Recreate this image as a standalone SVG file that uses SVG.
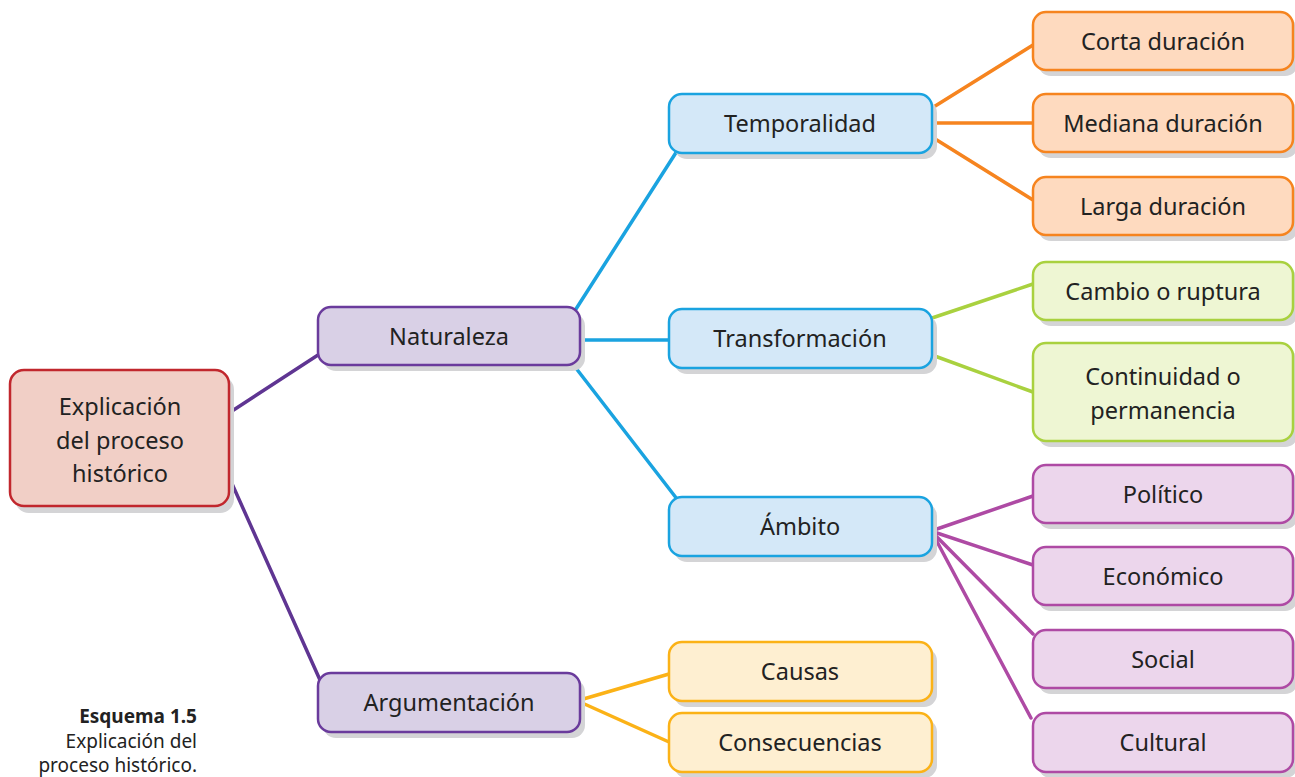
<svg xmlns="http://www.w3.org/2000/svg" width="1295" height="777" viewBox="0 0 1295 777">
<style>
.sh{fill:#d4d4d6}
.t{font-family:"Noto Sans","Open Sans",sans-serif;font-size:23.5px;fill:#222222;text-anchor:middle}
.cap{font-family:"Noto Sans","Open Sans",sans-serif;font-size:19px;fill:#222222;text-anchor:end}
.root{fill:#f1cfc6;stroke:#c1272d;stroke-width:2.5}
.pur{fill:#d9d0e6;stroke:#6a3b9c;stroke-width:2.5}
.blu{fill:#d4e8f8;stroke:#1aa3e0;stroke-width:2.5}
.org{fill:#fedabf;stroke:#f6841f;stroke-width:2.5}
.grn{fill:#eef6d3;stroke:#a9d13f;stroke-width:2.5}
.pnk{fill:#ecd6ec;stroke:#ae4aa4;stroke-width:2.5}
.yel{fill:#feefd1;stroke:#fbb217;stroke-width:2.5}
.c{fill:none;stroke-width:3.5;stroke-linecap:round}
</style>
<rect width="1295" height="777" fill="#ffffff"/>
<g id="connectors">
<g class="c" stroke="#5f3592">
<line x1="229" y1="413" x2="318" y2="355"/>
<line x1="229" y1="477" x2="320" y2="680"/>
</g>
<g class="c" stroke="#1aa3e0">
<line x1="576" y1="309" x2="677" y2="151"/>
<line x1="580" y1="340" x2="669" y2="340"/>
<line x1="572" y1="363" x2="677" y2="499"/>
</g>
<g class="c" stroke="#f6841f">
<line x1="932" y1="108" x2="1033" y2="45"/>
<line x1="932" y1="123" x2="1033" y2="123"/>
<line x1="932" y1="137" x2="1033" y2="200"/>
</g>
<g class="c" stroke="#a9d13f">
<line x1="932" y1="318" x2="1033" y2="284"/>
<line x1="932" y1="355" x2="1033" y2="392"/>
</g>
<g class="c" stroke="#ae4aa4">
<line x1="934" y1="530" x2="1033" y2="496"/>
<line x1="934" y1="532" x2="1033" y2="565"/>
<line x1="934" y1="534" x2="1033" y2="634"/>
<line x1="934" y1="536" x2="1031" y2="718"/>
</g>
<g class="c" stroke="#fbb217">
<line x1="580" y1="700" x2="669" y2="674"/>
<line x1="580" y1="702" x2="669" y2="742"/>
</g>
</g>
<g id="n-root"><rect class="sh" x="15" y="376" width="219" height="137" rx="14"/><rect class="root" x="10" y="370" width="219" height="136" rx="14"/>
<text class="t" x="120" y="415">Explicación</text><text class="t" x="120" y="449">del proceso</text><text class="t" x="120" y="482">histórico</text></g>
<g id="n-naturaleza"><rect class="sh" x="323" y="313" width="262" height="58" rx="13"/><rect class="pur" x="318" y="307" width="262" height="58" rx="13"/><text class="t" x="449" y="345">Naturaleza</text></g>
<g id="n-argumentacion"><rect class="sh" x="323" y="679" width="262" height="59" rx="13"/><rect class="pur" x="318" y="673" width="262" height="59" rx="13"/><text class="t" x="449" y="711">Argumentación</text></g>
<g id="n-temporalidad"><rect class="sh" x="674" y="100" width="263" height="59" rx="13"/><rect class="blu" x="669" y="94" width="263" height="59" rx="13"/><text class="t" x="800" y="132">Temporalidad</text></g>
<g id="n-transformacion"><rect class="sh" x="674" y="315" width="263" height="59" rx="13"/><rect class="blu" x="669" y="309" width="263" height="59" rx="13"/><text class="t" x="800" y="347">Transformación</text></g>
<g id="n-ambito"><rect class="sh" x="674" y="503" width="263" height="59" rx="13"/><rect class="blu" x="669" y="497" width="263" height="59" rx="13"/><text class="t" x="800" y="535">Ámbito</text></g>
<g id="n-corta"><rect class="sh" x="1038" y="18" width="260" height="58" rx="13"/><rect class="org" x="1033" y="12" width="260" height="58" rx="13"/><text class="t" x="1163" y="50">Corta duración</text></g>
<g id="n-mediana"><rect class="sh" x="1038" y="100" width="260" height="58" rx="13"/><rect class="org" x="1033" y="94" width="260" height="58" rx="13"/><text class="t" x="1163" y="132">Mediana duración</text></g>
<g id="n-larga"><rect class="sh" x="1038" y="183" width="260" height="58" rx="13"/><rect class="org" x="1033" y="177" width="260" height="58" rx="13"/><text class="t" x="1163" y="215">Larga duración</text></g>
<g id="n-cambio"><rect class="sh" x="1038" y="268" width="260" height="58" rx="13"/><rect class="grn" x="1033" y="262" width="260" height="58" rx="13"/><text class="t" x="1163" y="300">Cambio o ruptura</text></g>
<g id="n-continuidad"><rect class="sh" x="1038" y="349" width="260" height="98" rx="13"/><rect class="grn" x="1033" y="343" width="260" height="98" rx="13"/><text class="t" x="1163" y="385">Continuidad o</text><text class="t" x="1163" y="419">permanencia</text></g>
<g id="n-politico"><rect class="sh" x="1038" y="471" width="260" height="58" rx="13"/><rect class="pnk" x="1033" y="465" width="260" height="58" rx="13"/><text class="t" x="1163" y="503">Político</text></g>
<g id="n-economico"><rect class="sh" x="1038" y="553" width="260" height="58" rx="13"/><rect class="pnk" x="1033" y="547" width="260" height="58" rx="13"/><text class="t" x="1163" y="585">Económico</text></g>
<g id="n-social"><rect class="sh" x="1038" y="636" width="260" height="58" rx="13"/><rect class="pnk" x="1033" y="630" width="260" height="58" rx="13"/><text class="t" x="1163" y="668">Social</text></g>
<g id="n-cultural"><rect class="sh" x="1038" y="719" width="260" height="59" rx="13"/><rect class="pnk" x="1033" y="713" width="260" height="59" rx="13"/><text class="t" x="1163" y="751">Cultural</text></g>
<g id="n-causas"><rect class="sh" x="674" y="648" width="263" height="59" rx="13"/><rect class="yel" x="669" y="642" width="263" height="59" rx="13"/><text class="t" x="800" y="680">Causas</text></g>
<g id="n-consecuencias"><rect class="sh" x="674" y="719" width="263" height="59" rx="13"/><rect class="yel" x="669" y="713" width="263" height="59" rx="13"/><text class="t" x="800" y="751">Consecuencias</text></g>
<g id="caption">
<text class="cap" x="197" y="723" font-size="17.5" font-weight="bold">Esquema 1.5</text>
<text class="cap" x="197" y="748">Explicación del</text>
<text class="cap" x="197" y="772">proceso histórico.</text>
</g>
</svg>
